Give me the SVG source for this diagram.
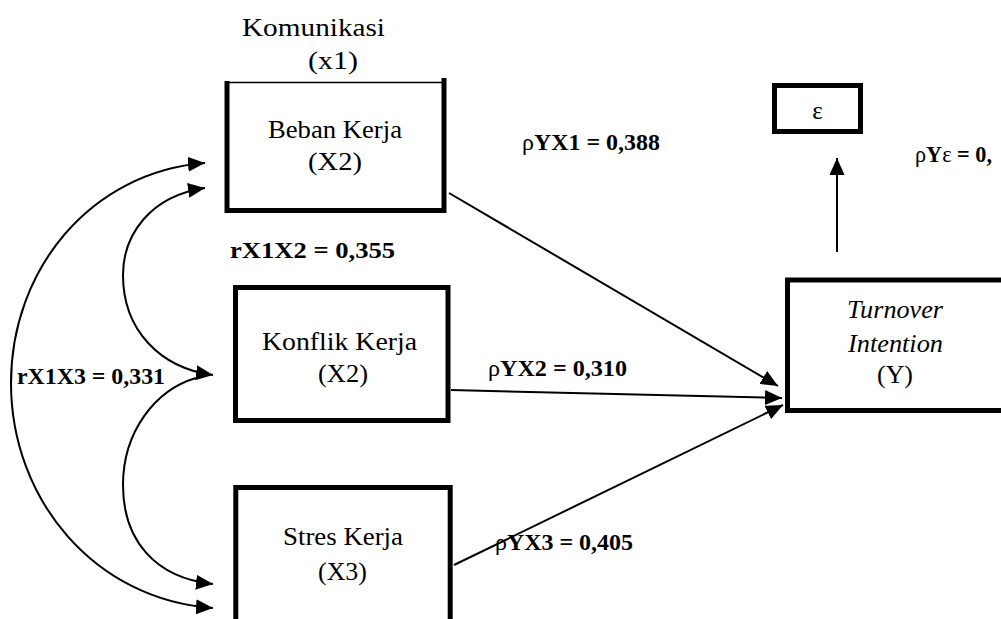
<svg xmlns="http://www.w3.org/2000/svg" width="1001" height="619" viewBox="0 0 1001 619">
<defs>
<marker id="ah" viewBox="0 0 17 15" refX="17" refY="7.5" markerWidth="17" markerHeight="15" markerUnits="userSpaceOnUse" orient="auto-start-reverse">
<path d="M0,0 L17,7.5 L0,15 z" fill="#000"/>
</marker>
<style>
text{font-family:'Liberation Serif','DejaVu Serif',serif}
.t{font-size:25px;fill:#000}
.b{font-size:24px;font-weight:bold;fill:#000}
.n{font-weight:normal}
.it{font-style:italic}
.box{fill:none;stroke:#000;stroke-width:5}
.thin{fill:none;stroke:#000;stroke-width:1.5}
.ln{fill:none;stroke:#000;stroke-width:2}
</style>
</defs>
<rect width="1001" height="619" fill="#fff"/>

<g id="komunikasi" font-family="Liberation Serif, serif">
<text class="t" x="242" y="36" textLength="143" lengthAdjust="spacingAndGlyphs">Komunikasi</text>
<text class="t" x="308" y="69" textLength="50" lengthAdjust="spacingAndGlyphs">(x1)</text>
</g>

<g id="beban">
<line class="thin" x1="227" y1="82.5" x2="444" y2="82.5"/>
<path class="box" d="M227,81 V210.5 H444 V78"/>
<text class="t" x="268" y="138" textLength="134" lengthAdjust="spacingAndGlyphs">Beban Kerja</text>
<text class="t" x="308" y="170" textLength="54" lengthAdjust="spacingAndGlyphs">(X2)</text>
</g>

<g id="konflik">
<rect class="box" x="235.5" y="287.5" width="212.5" height="133"/>
<text class="t" x="262" y="350" textLength="155" lengthAdjust="spacingAndGlyphs">Konflik Kerja</text>
<text class="t" x="318" y="382" textLength="50" lengthAdjust="spacingAndGlyphs">(X2)</text>
</g>

<g id="stres">
<path class="box" d="M235.8,625 V487.5 H450.2 V625"/>
<text class="t" x="283" y="545" textLength="120" lengthAdjust="spacingAndGlyphs">Stres Kerja</text>
<text class="t" x="318" y="580" textLength="49" lengthAdjust="spacingAndGlyphs">(X3)</text>
</g>

<g id="turnover">
<path class="box" d="M1010,280 H787.5 V410.5 H1010"/>
<text class="t it" x="847" y="318" textLength="96" lengthAdjust="spacingAndGlyphs">Turnover</text>
<text class="t it" x="848" y="352" textLength="95" lengthAdjust="spacingAndGlyphs">Intention</text>
<text class="t" x="877" y="383" textLength="36" lengthAdjust="spacingAndGlyphs">(Y)</text>
</g>

<g id="epsilon">
<rect class="box" x="774.5" y="85.5" width="86" height="46"/>
<text class="t" x="817.5" y="119" text-anchor="middle">ε</text>
</g>

<g id="connectors">
<line class="ln" x1="449" y1="193" x2="778" y2="386" marker-end="url(#ah)"/>
<line class="ln" x1="451" y1="390" x2="782" y2="398" marker-end="url(#ah)"/>
<line class="ln" x1="454" y1="565" x2="783" y2="405" marker-end="url(#ah)"/>
<line class="ln" x1="837" y1="252" x2="837" y2="158" marker-end="url(#ah)"/>
<path class="ln" d="M205,163 C90,172 11,270 11,383 C11,500 95,600 213,608" marker-start="url(#ah)" marker-end="url(#ah)"/>
<path class="ln" d="M205,188 C150,196 123,235 123,275 C123,330 160,368 213,375" marker-start="url(#ah)" marker-end="url(#ah)"/>
<path class="ln" d="M196,378 C155,390 123,432 123,485 C123,540 155,578 213,584" marker-end="url(#ah)"/>
</g>

<g id="labels">
<text class="b" x="522" y="150" textLength="138" lengthAdjust="spacingAndGlyphs"><tspan class="n">ρ</tspan>YX1 = 0,388</text>
<text class="b" x="230" y="258" textLength="165" lengthAdjust="spacingAndGlyphs">rX1X2 = 0,355</text>
<text class="b" x="488" y="376" textLength="139" lengthAdjust="spacingAndGlyphs"><tspan class="n">ρ</tspan>YX2 = 0,310</text>
<text class="b" x="495" y="550" textLength="138" lengthAdjust="spacingAndGlyphs"><tspan class="n">ρ</tspan>YX3 = 0,405</text>
<text class="b" x="17" y="384" textLength="148" lengthAdjust="spacingAndGlyphs">rX1X3 = 0,331</text>
<text class="b" x="915" y="162" textLength="77" lengthAdjust="spacingAndGlyphs"><tspan class="n">ρ</tspan>Y<tspan class="n">ε</tspan> = 0,</text>
</g>
</svg>
